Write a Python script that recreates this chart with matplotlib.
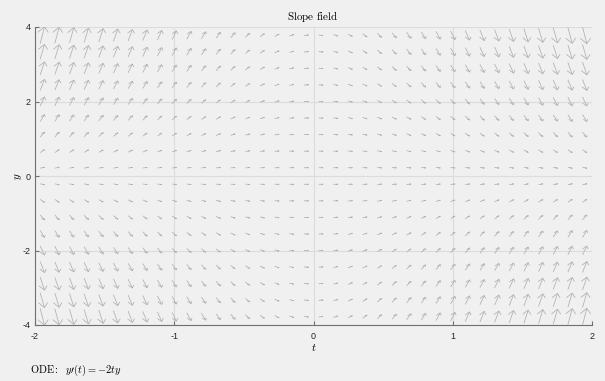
import numpy as np
import matplotlib
matplotlib.use("Agg")
import matplotlib.pyplot as plt
from matplotlib.collections import LineCollection

# ---- data ----
t_limits = [-2, 2]
y_limits = [-4, 4]
n_t = 38          # columns of arrows
n_y = 18          # rows of arrows
x_ticks = [-2, -1, 0, 1, 2]
y_ticks = [-4, -2, 0, 2, 4]
x_tick_labels = ["-2", "-1", "0", "1", "2"]
y_tick_labels = ["-4", "-2", "0", "2", "4"]
title_text = r"$\mathrm{Slope\ field}$"
ode_text = r"$\mathrm{ODE:}\ \ y\prime(t) = -2ty$"


def ode(t, y):
    return -2 * t * y


# arrow grid: cell centres
t_edges = np.linspace(t_limits[0], t_limits[1], n_t + 1)
y_edges = np.linspace(y_limits[0], y_limits[1], n_y + 1)
t_centres = (t_edges[:-1] + t_edges[1:]) / 2
y_centres = (y_edges[:-1] + y_edges[1:]) / 2
T, Y = np.meshgrid(t_centres, y_centres)
S = ode(T, Y)

# ---- style ----
plt.rcParams["mathtext.fontset"] = "cm"
bg = "#f0f0f0"
arrow_color = "#b0b0b0"
scale = 0.031
alpha_h = 0.33
beta_h = 0.25

fig = plt.figure(figsize=(6.05, 3.81), dpi=100, facecolor=bg)
ax = fig.add_axes([35 / 605, 1 - 325 / 381, 557 / 605, 298 / 381])
ax.set_facecolor(bg)
ax.set_xlim(t_limits)
ax.set_ylim(y_limits)

# MATLAB-like quiver (centred, open arrow heads)
U = scale * np.ones_like(S)
V = scale * S
x0 = T - U / 2
y0 = Y - V / 2
x1 = x0 + U
y1 = y0 + V
hx1 = x1 - alpha_h * (U + beta_h * V)
hy1 = y1 - alpha_h * (V - beta_h * U)
hx2 = x1 - alpha_h * (U - beta_h * V)
hy2 = y1 - alpha_h * (V + beta_h * U)

segs = []
for a, b, c, d, e, f, g, h in zip(x0.ravel(), y0.ravel(), x1.ravel(), y1.ravel(),
                                  hx1.ravel(), hy1.ravel(), hx2.ravel(), hy2.ravel()):
    segs.append([(a, b), (c, d)])
    segs.append([(e, f), (c, d), (g, h)])
lc = LineCollection(segs, colors=arrow_color, linewidths=0.55, zorder=3)
ax.add_collection(lc)

# grid / axes
ax.set_xticks(x_ticks)
ax.set_yticks(y_ticks)
ax.set_xticklabels(x_tick_labels, family="Liberation Sans", fontsize=6.5, color="#262626")
ax.set_yticklabels(y_tick_labels, family="Liberation Sans", fontsize=6.5, color="#262626")
ax.grid(True, color="#dcdcdc", linewidth=0.8, zorder=1)
ax.set_axisbelow(True)
for s in ["top", "right"]:
    ax.spines[s].set_visible(False)
for s in ["left", "bottom"]:
    ax.spines[s].set_color("#707070")
    ax.spines[s].set_linewidth(0.8)
ax.tick_params(direction="in", length=3, width=0.8, color="#707070")
ax.tick_params(axis="x", pad=5)
ax.tick_params(axis="y", pad=3)

ax.set_xlabel(r"$t$", fontsize=8, labelpad=1)
ax.set_ylabel(r"$y$", fontsize=8, labelpad=-1)

fig.text(313 / 605, 1 - 17 / 381, title_text, ha="center", va="center", fontsize=8)
fig.text(30 / 605, 1 - 370 / 381, ode_text, ha="left", va="center", fontsize=7.5)

fig.savefig("out.png", dpi=100, facecolor=bg)
